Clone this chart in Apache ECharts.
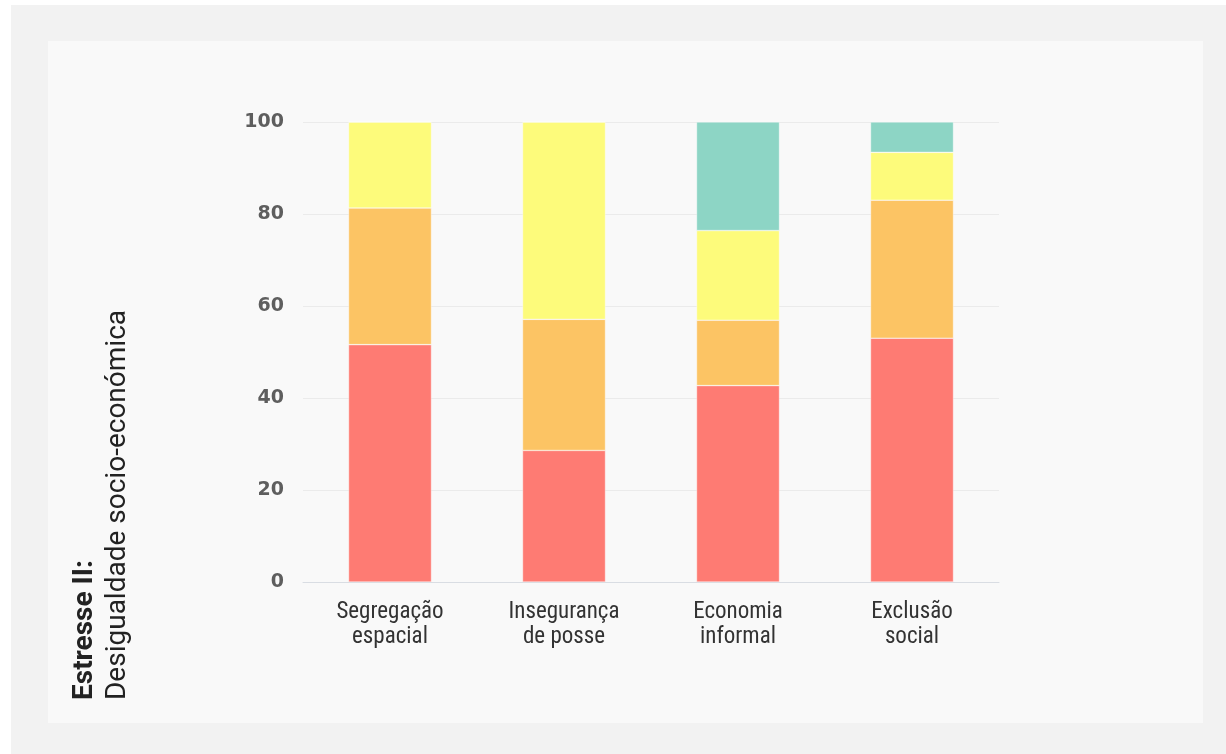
<!DOCTYPE html>
<html>
<head>
<meta charset="utf-8">
<script src="https://cdn.jsdelivr.net/npm/echarts@6/dist/echarts.min.js"></script>
<style>
html,body{margin:0;padding:0;background:#ffffff;}
#chart{width:1226px;height:754px;}
</style>
</head>
<body>
<div id="chart"></div>
<script>
const categories = ['Segregação\nespacial', 'Insegurança\nde posse', 'Economia\ninformal', 'Exclusão\nsocial'];
const redValues = [51.6, 28.6, 42.7, 53.0];
const orangeValues = [29.7, 28.5, 14.2, 30.0];
const yellowValues = [18.7, 42.9, 19.5, 10.4];
const tealValues = [0, 0, 23.6, 6.6];
const yTicks = [0, 20, 40, 60, 80, 100];
const titleBold = 'Estresse II:';
const titleRegular = 'Desigualdade socio-económica';

const chart = echarts.init(document.getElementById('chart'), null, {renderer: 'canvas'});

function barSeries(name, data, color) {
  return {
    name: name,
    type: 'bar',
    stack: 'total',
    data: data,
    barWidth: 83,
    itemStyle: {color: color, borderColor: 'rgba(255,255,255,0.6)', borderWidth: 0.6},
    emphasis: {disabled: true}
  };
}

chart.setOption({
  animation: false,
  backgroundColor: '#ffffff',
  graphic: [
    {type: 'rect', z: -10, shape: {x: 11, y: 5, width: 1215, height: 749}, style: {fill: '#f2f2f2'}},
    {type: 'rect', z: -9, shape: {x: 48, y: 41, width: 1155, height: 682}, style: {fill: '#f9f9f9'}},
    {
      type: 'text',
      x: 101,
      y: 700,
      rotation: Math.PI / 2,
      style: {
        text: '{b|' + titleBold + '}\n{r|' + titleRegular + '}',
        align: 'left',
        verticalAlign: 'middle',
        rich: {
          b: {fontFamily: 'Roboto', fontWeight: 'bold', fontSize: 28, lineHeight: 33, fill: '#222222'},
          r: {fontFamily: 'Roboto', fontWeight: 'normal', fontSize: 28, lineHeight: 33, fill: '#222222'}
        }
      }
    }
  ],
  grid: {left: 303, top: 122, width: 696, height: 460, containLabel: false},
  xAxis: {
    type: 'category',
    data: categories,
    axisLine: {show: true, lineStyle: {color: '#d9dde3', width: 1}},
    axisTick: {show: false},
    axisLabel: {
      margin: 18,
      fontFamily: 'Liberation Sans Narrow, Roboto Condensed, Roboto',
      fontSize: 23,
      lineHeight: 25,
      color: '#333333',
      interval: 0
    }
  },
  yAxis: {
    type: 'value',
    min: yTicks[0],
    max: yTicks[yTicks.length - 1],
    interval: 20,
    axisLine: {show: false},
    axisTick: {show: false},
    splitLine: {show: true, lineStyle: {color: '#ebebeb', width: 1}},
    axisLabel: {
      margin: 19,
      fontFamily: 'DejaVu Sans',
      fontWeight: 'bold',
      fontSize: 19,
      color: '#5e5e5e'
    }
  },
  series: [
    barSeries('red', redValues, '#fe7b73'),
    barSeries('orange', orangeValues, '#fcc464'),
    barSeries('yellow', yellowValues, '#fdfb7b'),
    barSeries('teal', tealValues, '#8dd5c5')
  ]
});
</script>
</body>
</html>
